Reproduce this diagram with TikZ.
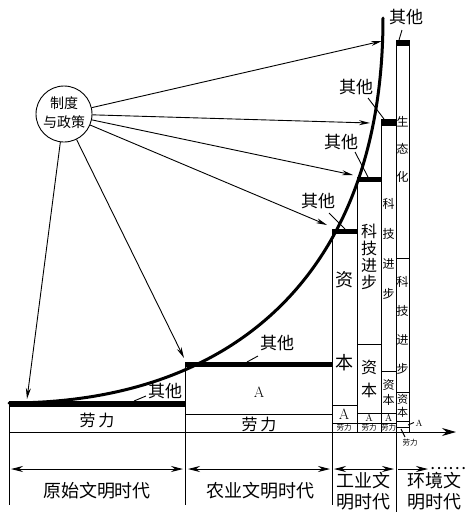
\documentclass[tikz,border=0pt]{standalone}
\usepackage{fontspec}
\newfontfamily\cjk{Noto Sans CJK SC}
\usetikzlibrary{arrows.meta}
\begin{document}
\begin{tikzpicture}[x=1pt,y=-1pt,
  ln/.style={line width=0.9pt},
  arr/.style={line width=0.9pt,-{Stealth[length=11pt,width=5pt]}},
  darr/.style={line width=0.9pt,{Stealth[length=12pt,width=6pt]}-{Stealth[length=12pt,width=6pt]}},
  big/.style={font=\fontsize{18}{18}\selectfont\cjk,inner sep=0},
  qt/.style={font=\fontsize{17}{17}\selectfont\cjk,inner sep=0},
  mid/.style={font=\fontsize{16}{16}\selectfont\cjk,inner sep=0},
  sm/.style={font=\fontsize{12}{12}\selectfont\cjk,inner sep=0},
  xs/.style={font=\fontsize{11}{11}\selectfont\cjk,inner sep=0},
  tiny/.style={font=\fontsize{7.5}{7.5}\selectfont\cjk,inner sep=0},
  la/.style={font=\fontsize{15}{15}\selectfont,inner sep=0},
  lasm/.style={font=\fontsize{10}{10}\selectfont,inner sep=0}]
\useasboundingbox (0,0) rectangle (465,515);

% thick bars
\fill (9,401) rectangle (185,407);
\fill (185,362) rectangle (332,367);
\fill (332,229) rectangle (357,234);
\fill (357,177) rectangle (381,182);
\fill (381,119) rectangle (396,126);
\fill (396,40) rectangle (409,46);

% vertical lines
\draw[ln] (9,401) -- (9,505);
\draw[ln] (185,362) -- (185,505);
\draw[ln] (332,229) -- (332,505);
\draw[ln] (396,40) -- (396,512);
\draw[ln] (357,177) -- (357,432);
\draw[ln] (381,119) -- (381,432);
\draw[ln] (409,40) -- (409,432);

% horizontal dividers
\draw[ln] (185,414) -- (332,414);
\draw[ln] (332,405) -- (357,405);
\draw[ln] (357,413) -- (396,413);
\draw[ln] (332,423) -- (396,423);
\draw[ln] (357,344) -- (381,344);
\draw[ln] (381,371) -- (396,371);
\draw[ln] (396,258) -- (409,258);
\draw[ln] (396,392) -- (409,392);
\draw[ln] (396,421) -- (409,421);
\draw[ln] (396,427) -- (409,427);

% axis
\draw[ln,-{Stealth[length=14pt,width=8pt]}] (9,432) -- (456,432);

% curve
\draw[line width=3pt,line cap=round] (9,403) .. controls (239,403) and (383,268) .. (383,18);

% circle
\node[draw,circle,ln,minimum size=56pt,inner sep=0] (c) at (64,114) {};
\node[font=\fontsize{14}{14}\selectfont\cjk,inner sep=0] (c1) at (64,103) {制度};
\node[font=\fontsize{14}{14}\selectfont\cjk,inner sep=0] (c2) at (64,122) {与政策};

\coordinate (t1) at (382,41);
\coordinate (t2) at (370,123);
\coordinate (t3) at (353,175);
\coordinate (t4) at (327,225);
\coordinate (t5) at (184,358);
\coordinate (t6) at (27,399);
\foreach \t in {t1,t2,t3,t4,t5,t6} \draw[arr] (c) -- (\t);

% "其他" labels
\node[qt] (q1) at (406,17) {其他};
\node[qt] (q2) at (356,87) {其他};
\node[qt] (q3) at (341,142) {其他};
\node[qt] (q4) at (318,201) {其他};
\node[qt] (q5) at (277,343) {其他};
\node[qt] (q6) at (165,391) {其他};
\draw[ln] (402,30) -- (399,40);
\draw[ln] (368,98) -- (384,119);
\draw[ln] (355,152) -- (368,177);
\draw[ln] (329,213) -- (345,229);
\draw[ln] (258,356) -- (247,362);
\draw[ln] (146,396) -- (134,401);

% primitive / agricultural
\node[mid] (p1) at (97,420) {劳\hspace{3pt}力};
\node[la] (a1) at (259,392) {A};
\node[mid] (p2) at (259,424) {劳\hspace{3pt}力};

% column 1
\node[big] (k1a) at (344,280) {资};
\node[big] (k1b) at (344,363) {本};
\node[la] (k1c) at (344,414) {A};
\node[tiny] (k1d) at (344,428) {劳力};

% column 2
\node[mid] (k2a) at (369,231) {科};
\node[mid] (k2b) at (369,248) {技};
\node[mid] (k2c) at (369,265) {进};
\node[mid] (k2d) at (369,282) {步};
\node[mid] (k2e) at (369,367) {资};
\node[mid] (k2f) at (369,390) {本};
\node[lasm] (k2g) at (369,418) {A};
\node[tiny] (k2h) at (369,428) {劳力};

% column 3
\node[sm] (k3a) at (388.5,204) {科};
\node[sm] (k3b) at (388.5,234) {技};
\node[sm] (k3c) at (388.5,264) {进};
\node[sm] (k3d) at (388.5,294) {步};
\node[sm] (k3e) at (388.5,385) {资};
\node[sm] (k3f) at (388.5,400) {本};
\node[lasm] (k3g) at (388.5,418) {A};
\node[tiny] (k3h) at (388.5,428) {劳力};

% column 4
\node[sm] (k4a) at (402.5,122) {生};
\node[sm] (k4b) at (402.5,149) {态};
\node[sm] (k4c) at (402.5,177) {化};
\node[sm] (k4d) at (402.5,282) {科};
\node[sm] (k4e) at (402.5,311) {技};
\node[sm] (k4f) at (402.5,340) {进};
\node[sm] (k4g) at (402.5,369) {步};
\node[xs] (k4h) at (402.5,399) {资};
\node[xs] (k4i) at (402.5,412) {本};
\node[lasm,font=\fontsize{9}{9}\selectfont] (k4j) at (419,423) {A};
\draw[ln] (408,425) -- (414,422.5);
\node[tiny] (k4k) at (410,443) {劳力};
\draw[ln] (401,429) -- (405,437);

% era arrows
\draw[darr] (11,469) -- (183,469);
\draw[darr] (188,469) -- (330,469);
\draw[darr] (334,469) -- (394,469);
\draw[arr,-{Stealth[length=12pt,width=6pt]}] (398,469) -- (428,469);
\node[qt] (dots) at (448,469) {……};

% era labels
\node[big] (e1) at (97,491) {原始文明时代};
\node[big] (e2) at (260,491) {农业文明时代};
\node[big] (e3a) at (363,481) {工业文};
\node[big] (e3b) at (363,502) {明时代};
\node[big] (e4a) at (434,481) {环境文};
\node[big] (e4b) at (434,502) {明时代};
\end{tikzpicture}
\end{document}
